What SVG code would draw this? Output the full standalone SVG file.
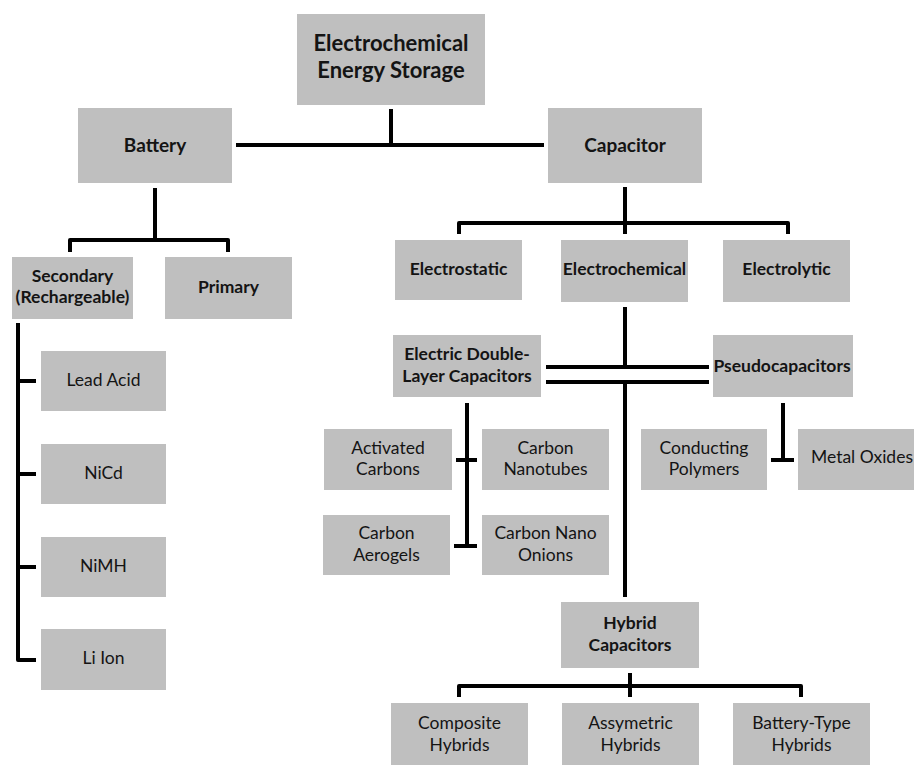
<svg xmlns="http://www.w3.org/2000/svg" width="914" height="765" viewBox="0 0 914 765">
<style>
.box{fill:#bfbfbf}
text{font-family:Lato,"Liberation Sans",sans-serif;fill:#141414;text-anchor:middle}
.b{font-weight:bold;font-size:17.5px}
.r{font-size:17.5px}
.big{font-weight:bold;font-size:22px}
.mid{font-weight:bold;font-size:19px}
.sec{font-weight:bold;font-size:17.5px}
.ln{fill:none;stroke:#000;stroke-width:4;stroke-linejoin:round}
</style>
<rect width="914" height="765" fill="#fff"/>
<g id="connectors">
<path class="ln" d="M391,109V145M236,145H544"/>
<path class="ln" d="M155,188V240M70,252V240H228V252"/>
<path class="ln" d="M18,323V660H36M18,381H36M18,474H36M18,567H36"/>
<path class="ln" d="M625,187V234M459,234V223H788V234"/>
<path class="ln" d="M625,307V367M546,367H709M546,382H709M625,382V597"/>
<path class="ln" d="M467,403V546M456,460H477M454,546H477"/>
<path class="ln" d="M783,403V460M771,460H794"/>
<path class="ln" d="M630,673V697M459,697V686H801V697"/>
</g>
<g id="root"><rect class="box" x="297" y="14" width="188" height="91"/><text class="big" x="391" y="51">Electrochemical</text><text class="big" x="391" y="78">Energy Storage</text></g>
<g id="battery"><rect class="box" x="78" y="108" width="154" height="75"/><text class="mid" x="155" y="152">Battery</text></g>
<g id="capacitor"><rect class="box" x="548" y="108" width="154" height="75"/><text class="mid" x="625" y="152">Capacitor</text></g>
<g id="secondary"><rect class="box" x="12" y="257" width="121" height="62"/><text class="sec" x="72.5" y="282">Secondary</text><text class="sec" x="72.5" y="303">(Rechargeable)</text></g>
<g id="primary"><rect class="box" x="165" y="257" width="127" height="62"/><text class="sec" x="228.5" y="293">Primary</text></g>
<g id="lead-acid"><rect class="box" x="41" y="351" width="125" height="60"/><text class="r" x="103.5" y="386">Lead Acid</text></g>
<g id="nicd"><rect class="box" x="41" y="444" width="125" height="60"/><text class="r" x="103.5" y="479">NiCd</text></g>
<g id="nimh"><rect class="box" x="41" y="537" width="125" height="60"/><text class="r" x="103.5" y="572">NiMH</text></g>
<g id="li-ion"><rect class="box" x="41" y="629" width="125" height="61"/><text class="r" x="103.5" y="664">Li Ion</text></g>
<g id="electrostatic"><rect class="box" x="395" y="240" width="127" height="60"/><text class="b" x="458.5" y="275">Electrostatic</text></g>
<g id="electrochemical"><rect class="box" x="561" y="240" width="127" height="62"/><text class="b" x="624.5" y="275">Electrochemical</text></g>
<g id="electrolytic"><rect class="box" x="723" y="240" width="127" height="62"/><text class="b" x="786.5" y="275">Electrolytic</text></g>
<g id="edlc"><rect class="box" x="393" y="335" width="148" height="62"/><text class="b" x="467" y="360">Electric Double-</text><text class="b" x="467" y="382">Layer Capacitors</text></g>
<g id="pseudocapacitors"><rect class="box" x="713" y="335" width="140" height="62"/><text class="b" x="782" y="372">Pseudocapacitors</text></g>
<g id="activated-carbons"><rect class="box" x="324" y="429" width="128" height="61"/><text class="r" x="388" y="454">Activated</text><text class="r" x="388" y="475">Carbons</text></g>
<g id="carbon-nanotubes"><rect class="box" x="482" y="429" width="127" height="61"/><text class="r" x="545.5" y="454">Carbon</text><text class="r" x="545.5" y="475">Nanotubes</text></g>
<g id="carbon-aerogels"><rect class="box" x="323" y="515" width="127" height="60"/><text class="r" x="386.5" y="539">Carbon</text><text class="r" x="386.5" y="561">Aerogels</text></g>
<g id="carbon-nano-onions"><rect class="box" x="482" y="515" width="127" height="60"/><text class="r" x="545.5" y="539">Carbon Nano</text><text class="r" x="545.5" y="561">Onions</text></g>
<g id="conducting-polymers"><rect class="box" x="641" y="429" width="126" height="61"/><text class="r" x="704" y="454">Conducting</text><text class="r" x="704" y="475">Polymers</text></g>
<g id="metal-oxides"><rect class="box" x="798" y="429" width="128" height="61"/><text class="r" x="862" y="463">Metal Oxides</text></g>
<g id="hybrid-capacitors"><rect class="box" x="561" y="602" width="138" height="66"/><text class="b" x="630" y="629">Hybrid</text><text class="b" x="630" y="651">Capacitors</text></g>
<g id="composite-hybrids"><rect class="box" x="391" y="703" width="137" height="64"/><text class="r" x="459.5" y="729">Composite</text><text class="r" x="459.5" y="751">Hybrids</text></g>
<g id="assymetric-hybrids"><rect class="box" x="562" y="703" width="137" height="64"/><text class="r" x="630.5" y="729">Assymetric</text><text class="r" x="630.5" y="751">Hybrids</text></g>
<g id="battery-type-hybrids"><rect class="box" x="733" y="703" width="137" height="64"/><text class="r" x="801.5" y="729">Battery-Type</text><text class="r" x="801.5" y="751">Hybrids</text></g>
</svg>
